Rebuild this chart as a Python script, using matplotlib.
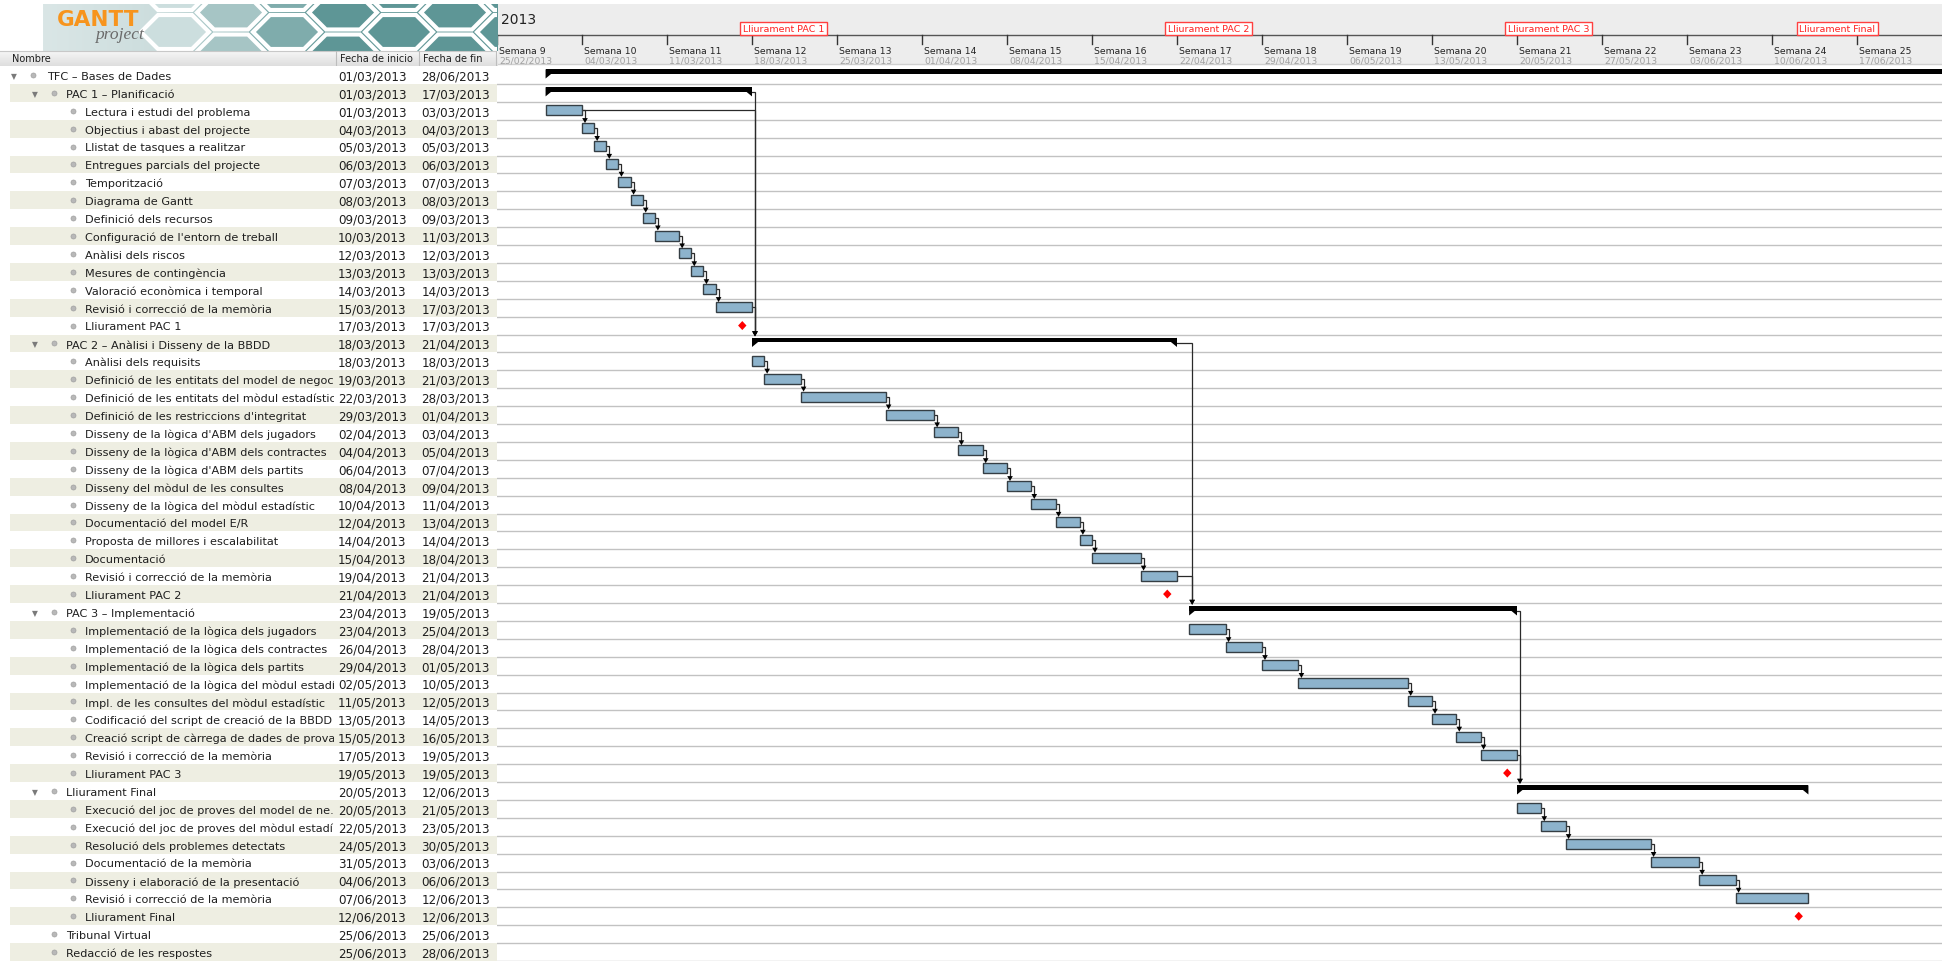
import datetime as dt
import numpy as np
import matplotlib
matplotlib.use('Agg')
import matplotlib.pyplot as plt
import matplotlib.dates as mdates
from matplotlib.patches import Rectangle, Polygon
from matplotlib.colors import LinearSegmentedColormap

plt.rcParams['font.family'] = ['DejaVu Sans']

# ---------------- data ----------------
names = [
    'TFC – Bases de Dades',
    'PAC 1 – Planificació',
    'Lectura i estudi del problema',
    'Objectius i abast del projecte',
    'Llistat de tasques a realitzar',
    'Entregues parcials del projecte',
    'Temporització',
    'Diagrama de Gantt',
    'Definició dels recursos',
    "Configuració de l'entorn de treball",
    'Anàlisi dels riscos',
    'Mesures de contingència',
    'Valoració econòmica i temporal',
    'Revisió i correcció de la memòria',
    'Lliurament PAC 1',
    'PAC 2 – Anàlisi i Disseny de la BBDD',
    'Anàlisi dels requisits',
    'Definició de les entitats del model de negoci',
    'Definició de les entitats del mòdul estadístic',
    "Definició de les restriccions d'integritat",
    "Disseny de la lògica d'ABM dels jugadors",
    "Disseny de la lògica d'ABM dels contractes",
    "Disseny de la lògica d'ABM dels partits",
    'Disseny del mòdul de les consultes',
    'Disseny de la lògica del mòdul estadístic',
    'Documentació del model E/R',
    'Proposta de millores i escalabilitat',
    'Documentació',
    'Revisió i correcció de la memòria',
    'Lliurament PAC 2',
    'PAC 3 – Implementació',
    'Implementació de la lògica dels jugadors',
    'Implementació de la lògica dels contractes',
    'Implementació de la lògica dels partits',
    'Implementació de la lògica del mòdul estadí...',
    'Impl. de les consultes del mòdul estadístic',
    'Codificació del script de creació de la BBDD',
    'Creació script de càrrega de dades de prova',
    'Revisió i correcció de la memòria',
    'Lliurament PAC 3',
    'Lliurament Final',
    'Execució del joc de proves del model de ne...',
    'Execució del joc de proves del mòdul estadí...',
    'Resolució dels problemes detectats',
    'Documentació de la memòria',
    'Disseny i elaboració de la presentació',
    'Revisió i correcció de la memòria',
    'Lliurament Final',
    'Tribunal Virtual',
    'Redacció de les respostes',
]

levels = [0, 1] + [2] * 13 + [1] + [2] * 14 + [1] + [2] * 9 + [1] + [2] * 7 + [1, 1]

kinds = (['summary', 'summary'] + ['task'] * 12 + ['milestone'] +
         ['summary'] + ['task'] * 13 + ['milestone'] +
         ['summary'] + ['task'] * 8 + ['milestone'] +
         ['summary'] + ['task'] * 6 + ['milestone'] +
         ['task', 'task'])

starts = [
    '01/03/2013', '01/03/2013', '01/03/2013', '04/03/2013', '05/03/2013', '06/03/2013',
    '07/03/2013', '08/03/2013', '09/03/2013', '10/03/2013', '12/03/2013', '13/03/2013',
    '14/03/2013', '15/03/2013', '17/03/2013',
    '18/03/2013', '18/03/2013', '19/03/2013', '22/03/2013', '29/03/2013', '02/04/2013',
    '04/04/2013', '06/04/2013', '08/04/2013', '10/04/2013', '12/04/2013', '14/04/2013',
    '15/04/2013', '19/04/2013', '21/04/2013',
    '23/04/2013', '23/04/2013', '26/04/2013', '29/04/2013', '02/05/2013', '11/05/2013',
    '13/05/2013', '15/05/2013', '17/05/2013', '19/05/2013',
    '20/05/2013', '20/05/2013', '22/05/2013', '24/05/2013', '31/05/2013', '04/06/2013',
    '07/06/2013', '12/06/2013',
    '25/06/2013', '25/06/2013',
]

ends = [
    '28/06/2013', '17/03/2013', '03/03/2013', '04/03/2013', '05/03/2013', '06/03/2013',
    '07/03/2013', '08/03/2013', '09/03/2013', '11/03/2013', '12/03/2013', '13/03/2013',
    '14/03/2013', '17/03/2013', '17/03/2013',
    '21/04/2013', '18/03/2013', '21/03/2013', '28/03/2013', '01/04/2013', '03/04/2013',
    '05/04/2013', '07/04/2013', '09/04/2013', '11/04/2013', '13/04/2013', '14/04/2013',
    '18/04/2013', '21/04/2013', '21/04/2013',
    '19/05/2013', '25/04/2013', '28/04/2013', '01/05/2013', '10/05/2013', '12/05/2013',
    '14/05/2013', '16/05/2013', '19/05/2013', '19/05/2013',
    '12/06/2013', '21/05/2013', '23/05/2013', '30/05/2013', '03/06/2013', '06/06/2013',
    '12/06/2013', '12/06/2013',
    '25/06/2013', '28/06/2013',
]

dependencies = [
    (2, 3), (3, 4), (4, 5), (5, 6), (6, 7), (7, 8), (8, 9), (9, 10), (10, 11), (11, 12), (12, 13),
    (1, 15), (2, 15), (13, 15),
    (16, 17), (17, 18), (18, 19), (19, 20), (20, 21), (21, 22), (22, 23), (23, 24), (24, 25),
    (25, 26), (26, 27), (27, 28),
    (15, 30), (28, 30),
    (31, 32), (32, 33), (33, 34), (34, 35), (35, 36), (36, 37), (37, 38),
    (30, 40), (38, 40),
    (41, 42), (42, 43), (43, 44), (44, 45), (45, 46),
]

week_labels = ['Semana 9', 'Semana 10', 'Semana 11', 'Semana 12', 'Semana 13', 'Semana 14',
               'Semana 15', 'Semana 16', 'Semana 17', 'Semana 18', 'Semana 19', 'Semana 20',
               'Semana 21', 'Semana 22', 'Semana 23', 'Semana 24', 'Semana 25']
week_dates = ['25/02/2013', '04/03/2013', '11/03/2013', '18/03/2013', '25/03/2013', '01/04/2013',
              '08/04/2013', '15/04/2013', '22/04/2013', '29/04/2013', '06/05/2013', '13/05/2013',
              '20/05/2013', '27/05/2013', '03/06/2013', '10/06/2013', '17/06/2013']

milestone_labels = ['Lliurament PAC 1', 'Lliurament PAC 2', 'Lliurament PAC 3', 'Lliurament Final']
milestone_dates = ['17/03/2013', '21/04/2013', '19/05/2013', '12/06/2013']

year_label = '2013'
column_headers = ['Nombre', 'Fecha de inicio', 'Fecha de fin']

# ---------------- layout ----------------
W, H = 1942.0, 962.0
TW = 497.0          # table width (px)
HH = 67.0           # header height (px)
NAME_W = 334.0      # width of the name column (px)
n = len(names)
ROW_H = (H - HH) / n
DAY_PX = 85.0 / 7.0

def d(s):
    return mdates.date2num(dt.datetime.strptime(s, '%d/%m/%Y'))

x0 = d(week_dates[0])
x1 = x0 + (W - TW) / DAY_PX
px = 1.0 / DAY_PX
py = 1.0 / ROW_H

fig = plt.figure(figsize=(W / 100, H / 100), dpi=100, facecolor='white')

# ---------------- chart ----------------
ax = fig.add_axes([TW / W, 0, (W - TW) / W, (H - HH) / H])
ax.set_xlim(x0, x1)
ax.set_ylim(n, 0)
ax.axis('off')

for i in range(1, n + 1):
    ax.axhline(i, color='#C2C2C2', lw=1.0, zorder=1)

BAR_FC = '#8DB3CC'
BAR_EC = '#353E44'
for i, (k, s, e) in enumerate(zip(kinds, starts, ends)):
    xs = d(s)
    xe = d(e) + 1
    if k == 'task':
        ax.add_patch(Rectangle((xs, i + 3.4 * py), xe - xs, 10 * py, fc=BAR_FC, ec=BAR_EC,
                               lw=1.0, zorder=3))
    elif k == 'summary':
        ax.add_patch(Rectangle((xs, i + 3.2 * py), xe - xs, 4.4 * py, fc='black', ec='none',
                               zorder=3))
        ax.add_patch(Polygon([(xs, i + 3.2 * py), (xs + 6 * px, i + 7.6 * py),
                              (xs, i + 12.5 * py)], closed=True, fc='black', ec='none', zorder=3))
        ax.add_patch(Polygon([(xe, i + 3.2 * py), (xe - 6 * px, i + 7.6 * py),
                              (xe, i + 12.5 * py)], closed=True, fc='black', ec='none', zorder=3))
    else:
        cx = xs + 0.2
        cy = i + 0.5
        ax.add_patch(Polygon([(cx - 4.2 * px, cy), (cx, cy - 4.5 * py), (cx + 4.2 * px, cy),
                              (cx, cy + 4.5 * py)], closed=True, fc='#FF0000', ec='none',
                             zorder=4))

for s, t in dependencies:
    xe = d(ends[s]) + 1
    ys = s + 8.4 * py
    xv = d(starts[t]) + 3 * px
    yt = t + (3.4 if kinds[t] == 'task' else 1.8) * py
    ax.plot([xe, xv, xv], [ys, ys, yt - 4 * py], color='#2A2A2A', lw=0.9, zorder=2,
            solid_joinstyle='miter')
    ax.add_patch(Polygon([(xv - 2.8 * px, yt - 5 * py), (xv + 2.8 * px, yt - 5 * py), (xv, yt)],
                         closed=True, fc='black', ec='none', zorder=4))

# ---------------- timeline header ----------------
hax = fig.add_axes([TW / W, (H - HH) / H, (W - TW) / W, HH / H])
hax.set_xlim(x0, x1)
hax.set_ylim(HH, 0)
hax.axis('off')
hax.add_patch(Rectangle((x0, 5), x1 - x0, 60, fc='#EDEDED', ec='none', zorder=0))
hax.axhline(65.3, color='#D0D0D0', lw=1.0, zorder=1)
hax.axhline(36, color='#555555', lw=1.0, zorder=2)
hax.text(x0 + 4 * px, 20, year_label, fontsize=10, color='#222222', va='center', ha='left')
for lab, wd in zip(week_labels, week_dates):
    xw = d(wd)
    hax.plot([xw, xw], [36, 45], color='#333333', lw=1.0, zorder=2)
    hax.text(xw + 2 * px, 51, lab, fontsize=6.7, color='#222222', va='center', ha='left')
    hax.text(xw + 2 * px, 61, wd, fontsize=6.7, color='#A0A0A0', va='center', ha='left')
for lab, md in zip(milestone_labels, milestone_dates):
    hax.text(d(md) + 3 * px, 29.5, lab, fontsize=6.8, color='#FF2020', va='center', ha='left',
             zorder=5,
             bbox=dict(boxstyle='square,pad=0.25', fc='white', ec='#FF4040', lw=1.0))

# ---------------- logo + table header ----------------
lax = fig.add_axes([0, (H - HH) / H, TW / W, HH / H])
lax.set_xlim(0, TW)
lax.set_ylim(HH, 0)
lax.axis('off')
cmap = LinearSegmentedColormap.from_list(
    'logo', [(0, '#DAE6E6'), (0.25, '#CCDDDD'), (0.42, '#93BABA'), (0.55, '#679B9B'),
             (1, '#5E9595')])
lax.imshow(np.linspace(0, 1, 256)[None, :], extent=(43, TW, 52, 5), cmap=cmap,
           aspect='auto', zorder=1)
logo_rect = Rectangle((43, 5), TW - 43, 47, transform=lax.transData, fc='none', ec='none')
lax.add_patch(logo_rect)
a, b = 34.0, 17.0
for ci, cxh in enumerate(np.arange(175, TW + 60, 1.5 * a + 5)):
    off = 0 if ci % 2 == 0 else b + 2.5
    for cyh in np.arange(-6 + off, 90, 2 * b + 5):
        verts = [(cxh - a, cyh), (cxh - a / 2, cyh - b), (cxh + a / 2, cyh - b), (cxh + a, cyh),
                 (cxh + a / 2, cyh + b), (cxh - a / 2, cyh + b)]
        frac = min(max((cxh - 175) / 160.0, 0), 1)
        fc = (0.80 - 0.43 * frac, 0.87 - 0.28 * frac, 0.87 - 0.28 * frac)
        p = Polygon(verts, closed=True, fc=fc, ec='white', lw=3.0, zorder=2)
        lax.add_patch(p)
        p.set_clip_path(logo_rect)
lax.text(57, 20, 'GANTT', fontsize=15.5, color='#F7941D', fontweight='bold', va='center',
         ha='left', zorder=3)
lax.text(95, 35, 'project', fontsize=12.5, color='#6A6A6A', style='italic',
         family='Liberation Serif', va='center', ha='left', zorder=3)

# column header row
lax.imshow(np.linspace(0, 1, 32)[:, None], extent=(0, TW, 67, 52),
           cmap=LinearSegmentedColormap.from_list('hdr', ['#F6F6F6', '#DEDEDE']),
           aspect='auto', zorder=1)
lax.set_xlim(0, TW)
lax.set_ylim(HH, 0)
lax.axhline(52, color='#C8C8C8', lw=0.8, zorder=3)
for xs in (336, 419, 496):
    lax.plot([xs, xs], [52, 67], color='#BDBDBD', lw=0.8, zorder=3)
for lab, xl in zip(column_headers, (12, 340, 423)):
    lax.text(xl, 59.5, lab, fontsize=7.0, color='#1E1E1E', va='center', ha='left', zorder=4)

# ---------------- task table ----------------
tax = fig.add_axes([0, 0, TW / W, (H - HH) / H])
tax.set_xlim(0, TW)
tax.set_ylim(n, 0)
tax.axis('off')
# name column (its own axes so long names are clipped at the column edge)
nax = fig.add_axes([0, 0, NAME_W / W, (H - HH) / H])
nax.set_xlim(0, NAME_W)
nax.set_ylim(n, 0)
nax.axis('off')

has_children = [kinds[i] == 'summary' for i in range(n)]
for i in range(n):
    if i % 2 == 1:
        tax.add_patch(Rectangle((10, i), TW - 10, 1, fc='#EEEEE2', ec='none', zorder=0))
    lv = levels[i]
    if lv == 0:
        bx, tx = 33, 47
    elif lv == 1:
        bx, tx = 54, 66
    else:
        bx, tx = 73, 85
    if has_children[i]:
        tax.text(bx - 19, i + 0.52, '▼', fontsize=5.5, color='#7A7A7A', va='center',
                 ha='center', zorder=2)
    tax.plot([bx], [i + 0.5], marker='o', ms=3.6, mfc='#B8B8B8', mec='#A0A0A0', mew=0.5,
             zorder=2)
    nax.text(tx, i + 0.55, names[i], fontsize=8.1, color='#1E1E1E', va='center', ha='left',
             zorder=2, clip_on=True)
    tax.text(338, i + 0.55, starts[i], fontsize=8.6, color='#1E1E1E', va='center', ha='left',
             zorder=2)
    tax.text(421.5, i + 0.55, ends[i], fontsize=8.6, color='#1E1E1E', va='center', ha='left',
             zorder=2)

fig.savefig('out.png', dpi=100, facecolor='white')
